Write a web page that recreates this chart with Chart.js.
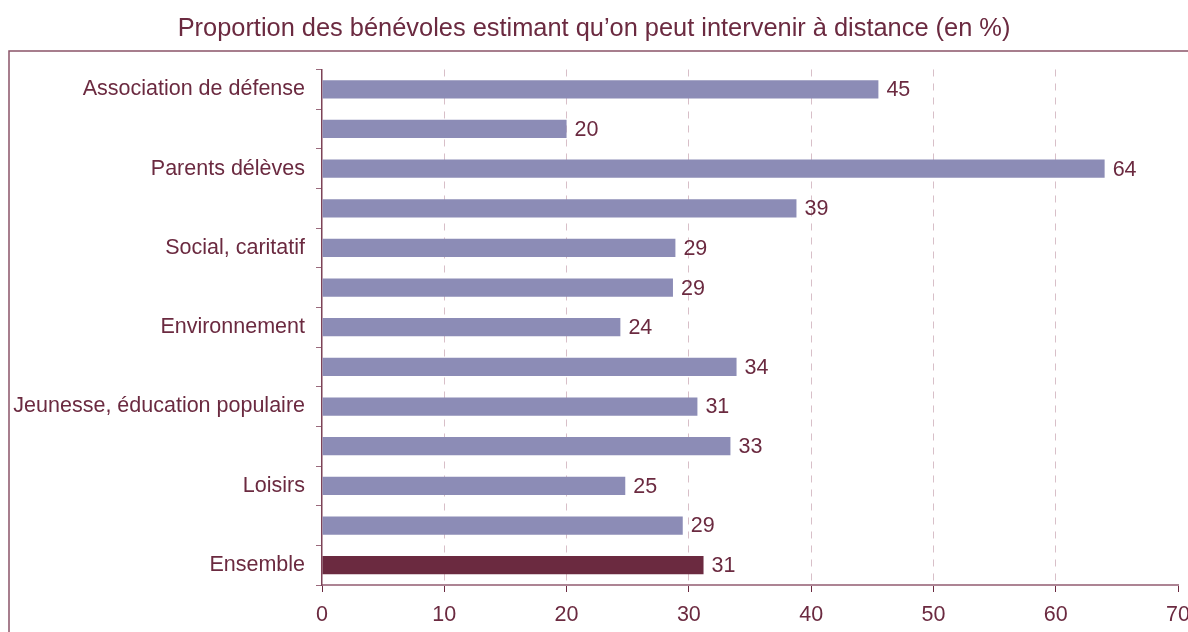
<!DOCTYPE html>
<html>
<head>
<meta charset="utf-8">
<script src="https://cdn.jsdelivr.net/npm/chart.js@4"></script>
<style>
  html, body { margin: 0; padding: 0; background: #fff; }
  #wrap { width: 1188px; height: 632px; }
</style>
</head>
<body>
<div id="wrap"><canvas id="chart" width="1188" height="632"></canvas></div>
<script>
// catégories (seule une sur deux est lisible sur le graphique d'origine)
var categories = [
    "Association de défense", "", "Parents délèves", "", "Social, caritatif", "",
    "Environnement", "", "Jeunesse, éducation populaire", "", "Loisirs", "", "Ensemble"
];
var values = [45.5, 20.0, 64.0, 38.8, 28.9, 28.7, 24.4, 33.9, 30.7, 33.4, 24.8, 29.5, 31.2];
// valeurs affichées au bout des barres
var shownValues = [45, 20, 64, 39, 29, 29, 24, 34, 31, 33, 25, 29, 31];
var xTicks = [0, 10, 20, 30, 40, 50, 60, 70];
var titleText = "Proportion des bénévoles estimant qu\u2019on peut intervenir à distance (en %)";

var PLUM = "#6b2a40";
var BAR = "#8c8cb6";
var FONT = "'Liberation Sans', Arial, sans-serif";

// cadre autour du graphique
var framePlugin = {
    id: "frame",
    beforeDraw: function(chart) {
        var ctx = chart.ctx;
        ctx.save();
        ctx.strokeStyle = "#8a5468";
        ctx.lineWidth = 1.5;
        ctx.beginPath();
        ctx.moveTo(9, chart.height);
        ctx.lineTo(9, 51);
        ctx.lineTo(chart.width, 51);
        ctx.stroke();
        ctx.restore();
    }
};

// valeurs au bout des barres
var valueLabels = {
    id: "valueLabels",
    afterDatasetsDraw: function(chart) {
        var ctx = chart.ctx;
        var meta = chart.getDatasetMeta(0);
        ctx.save();
        ctx.fillStyle = PLUM;
        ctx.font = "21.5px " + FONT;
        ctx.textBaseline = "middle";
        ctx.textAlign = "left";
        meta.data.forEach(function(bar, i) {
            ctx.fillText(shownValues[i], bar.x + 8, bar.y + 1);
        });
        ctx.restore();
    }
};

new Chart(document.getElementById("chart"), {
    type: "bar",
    data: {
        labels: categories,
        datasets: [{
            data: values,
            backgroundColor: categories.map(function(c) { return c === "Ensemble" ? PLUM : BAR; }),
            borderWidth: 0,
            categoryPercentage: 1,
            barPercentage: 0.46
        }]
    },
    plugins: [framePlugin, valueLabels],
    options: {
        indexAxis: "y",
        responsive: false,
        animation: false,
        layout: { padding: { left: 10, right: 10, top: 0, bottom: 0 } },
        plugins: {
            legend: { display: false },
            tooltip: { enabled: false },
            title: {
                display: true,
                text: titleText,
                color: PLUM,
                font: { family: FONT, size: 25.4, weight: "normal" },
                padding: { top: 14, bottom: 25 }
            }
        },
        scales: {
            x: {
                min: 0,
                max: 70,
                afterBuildTicks: function(s) {
                    s.ticks = xTicks.map(function(v) { return { value: v }; });
                },
                afterFit: function(s) {
                    s.height = 47;
                    s.paddingRight = 0;
                },
                grid: {
                    color: function(c) {
                        return (c.tick && (c.tick.value === 0 || c.tick.value === 70)) ? "rgba(0,0,0,0)" : "#d8bfc8";
                    },
                    lineWidth: 1,
                    tickColor: PLUM,
                    tickLength: 7,
                    drawTicks: true
                },
                border: { color: "#ad8494", width: 2, dash: [7, 7] },
                ticks: {
                    color: PLUM,
                    font: { family: FONT, size: 21.5 },
                    padding: 10,
                    maxRotation: 0
                }
            },
            y: {
                afterFit: function(s) { s.width = 312; },
                grid: {
                    offset: true,
                    drawOnChartArea: false,
                    drawTicks: true,
                    tickLength: 6,
                    color: "#9a6a7c",
                    tickColor: "#9a6a7c"
                },
                border: { color: "#7d4257", width: 1.5 },
                ticks: {
                    autoSkip: false,
                    color: PLUM,
                    font: { family: FONT, size: 21.5 },
                    padding: 11
                }
            }
        }
    }
});
</script>
</body>
</html>
